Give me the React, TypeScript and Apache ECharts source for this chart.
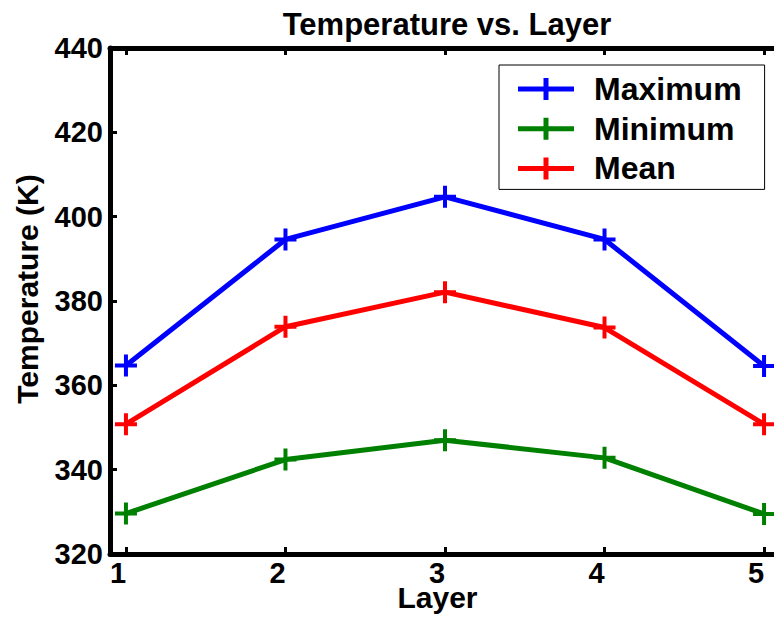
import React, { useEffect, useRef } from "react";
import * as echarts from "echarts";

const layers = [1, 2, 3, 4, 5];
const maximum = [364.7, 394.6, 404.7, 394.6, 364.6];
const minimum = [329.6, 342.4, 347.0, 342.8, 329.5];
const mean = [350.8, 373.9, 382.1, 373.7, 350.8];
const yTicks = [320, 340, 360, 380, 400, 420, 440];

const FONT = "'Liberation Sans', Arial, Helvetica, sans-serif";
const PLUS = "path://M9,0h4v22h-4z M0,9h22v4h-22z";
const LEGEND_ICON = "path://M0,8.5h56v5h-56z M25.5,0h5v22h-5z";

function pairs(vals: number[]) {
  return layers.map((x, i) => [x, vals[i]]);
}

export default function App() {
  const ref = useRef<HTMLDivElement>(null);
  useEffect(() => {
    if (!ref.current) return;
    const chart = echarts.init(ref.current, null, { renderer: "svg" });
    const axisLine = { show: true, lineStyle: { color: "#000", width: 5 } };
    const mk = (name: string, color: string, vals: number[]) => ({
      name,
      type: "line",
      data: pairs(vals),
      symbol: PLUS,
      symbolSize: 22,
      showAllSymbol: true,
      lineStyle: { color, width: 5 },
      itemStyle: { color },
      emphasis: { disabled: true },
    });
    chart.setOption({
      animation: false,
      backgroundColor: "#fff",
      title: {
        text: "Temperature vs. Layer",
        left: 442,
        textAlign: "center",
        top: 4,
        textStyle: { fontFamily: FONT, fontWeight: "bold", fontSize: 31, color: "#000" },
      },
      legend: {
        orient: "vertical",
        left: 499,
        top: 65,
        padding: [8, 23, 5, 19],
        itemWidth: 56,
        itemHeight: 22,
        itemGap: 7.7,
        borderColor: "#000",
        borderWidth: 1,
        backgroundColor: "#fff",
        icon: LEGEND_ICON,
        textStyle: {
          fontFamily: FONT,
          fontWeight: "bold",
          fontSize: 32,
          lineHeight: 30,
          color: "#000",
          padding: [0, 0, 0, 15],
        },
        data: ["Maximum", "Minimum", "Mean"],
      },
      grid: {
        left: 110,
        top: 48,
        width: 670,
        height: 506,
        containLabel: false,
        outerBoundsMode: "none",
      },
      xAxis: [
        {
          type: "value",
          min: 0.9,
          max: 5.1,
          position: "bottom",
          name: "Layer",
          nameLocation: "middle",
          nameGap: 30,
          nameMoveOverlap: false,
          nameTextStyle: {
            fontFamily: FONT,
            fontWeight: "bold",
            fontSize: 30,
            lineHeight: 26,
            color: "#000",
            padding: [0, 15, 0, 0],
          },
          axisLine,
          splitLine: { show: false },
          axisTick: {
            show: true,
            inside: true,
            length: 7,
            lineStyle: { color: "#000", width: 3 },
            customValues: layers,
          },
          axisLabel: {
            fontFamily: FONT,
            fontWeight: "bold",
            fontSize: 29,
            lineHeight: 24,
            color: "#000",
            margin: 7,
            padding: [0, 16, 0, 0],
            customValues: layers,
          },
        },
        {
          type: "value",
          min: 0.9,
          max: 5.1,
          position: "top",
          axisLine,
          splitLine: { show: false },
          axisTick: {
            show: true,
            inside: true,
            length: 7,
            lineStyle: { color: "#000", width: 3 },
            customValues: layers,
          },
          axisLabel: { show: false },
        },
      ],
      yAxis: {
        type: "value",
        min: 320,
        max: 440,
        interval: 20,
        name: "Temperature (K)",
        nameLocation: "middle",
        nameGap: 68,
        nameMoveOverlap: false,
        nameTextStyle: {
          fontFamily: FONT,
          fontWeight: "bold",
          fontSize: 30,
          color: "#000",
          padding: [0, 0, 0, 24],
        },
        axisLine,
        splitLine: { show: false },
        axisTick: { show: true, inside: true, length: 7, lineStyle: { color: "#000", width: 3 }, customValues: yTicks },
        axisLabel: {
          fontFamily: FONT,
          fontWeight: "bold",
          fontSize: 29,
          color: "#000",
          margin: 7,
          customValues: yTicks,
        },
      },
      series: [
        mk("Maximum", "#0000ff", maximum),
        mk("Minimum", "#008000", minimum),
        mk("Mean", "#ff0000", mean),
      ],
    });
    return () => chart.dispose();
  }, []);
  return (
    <div
      ref={ref}
      style={{ position: "absolute", left: 0, top: 0, width: 774, height: 620, background: "#fff" }}
    />
  );
}
